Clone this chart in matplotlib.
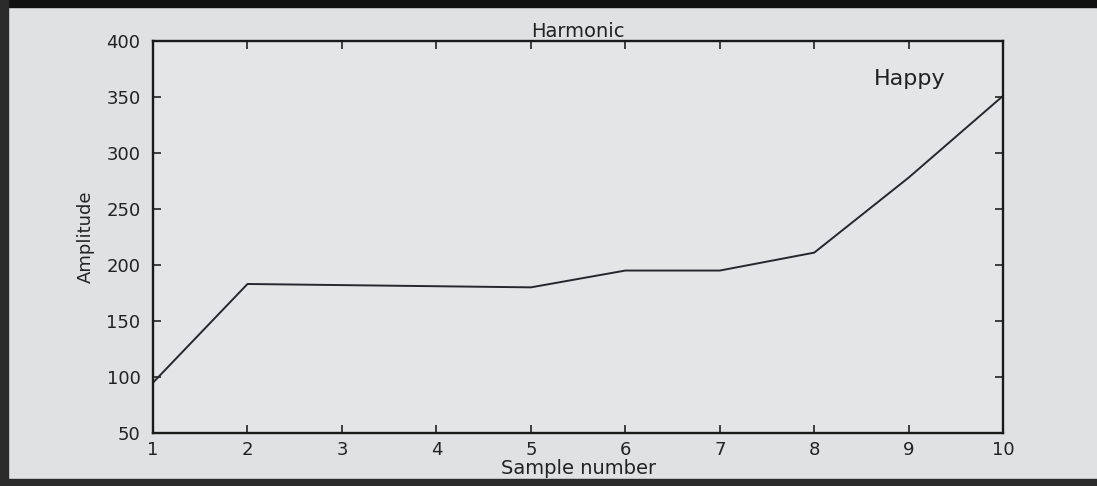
import matplotlib.pyplot as plt
from matplotlib.patches import Rectangle

# harmonic amplitude per sample
samples = [1, 2, 3, 4, 5, 6, 7, 8, 9, 10]
amplitude = [95, 183, 182, 181, 180, 195, 195, 211, 278, 351]

x_ticks = [1, 2, 3, 4, 5, 6, 7, 8, 9, 10]
y_ticks = [50, 100, 150, 200, 250, 300, 350, 400]

plt.rcParams['font.family'] = ['DejaVu Sans']

fig = plt.figure(figsize=(10.97, 4.86), dpi=100, facecolor='#dfe1e2')
ax = fig.add_axes([0.1395, 0.109, 0.775, 0.807])
ax.set_facecolor('#e3e5e6')

ax.plot(samples, amplitude, color='#26262c', linewidth=1.4)

ax.set_xlim(1, 10)
ax.set_ylim(50, 400)
ax.set_xticks(x_ticks)
ax.set_yticks(y_ticks)
ax.tick_params(direction='in', top=True, right=True, length=6, width=1.2,
               labelsize=13, colors='#222222')
ax.tick_params(axis='y', pad=9)
ax.tick_params(axis='x', pad=6)
for s in ax.spines.values():
    s.set_linewidth(1.7)
    s.set_color('#1a1a1a')

ax.set_title('Harmonic', fontsize=14, color='#222222', pad=3)
ax.set_xlabel('Sample number', fontsize=14, color='#222222', labelpad=0)
ax.set_ylabel('Amplitude', fontsize=13, color='#222222', labelpad=8)
ax.text(8.63, 366, 'Happy', fontsize=16, color='#222222', va='center')

# dark edges around the sheet
fig.patches.append(Rectangle((0, 0.985), 1, 0.015, transform=fig.transFigure,
                             color='#101010', zorder=10))
fig.patches.append(Rectangle((0, 0), 0.007, 1, transform=fig.transFigure,
                             color='#2a2a2a', zorder=10))
fig.patches.append(Rectangle((0, 0), 1, 0.014, transform=fig.transFigure,
                             color='#2a2a2a', zorder=10))

fig.savefig('out.png', dpi=100, facecolor=fig.get_facecolor())
